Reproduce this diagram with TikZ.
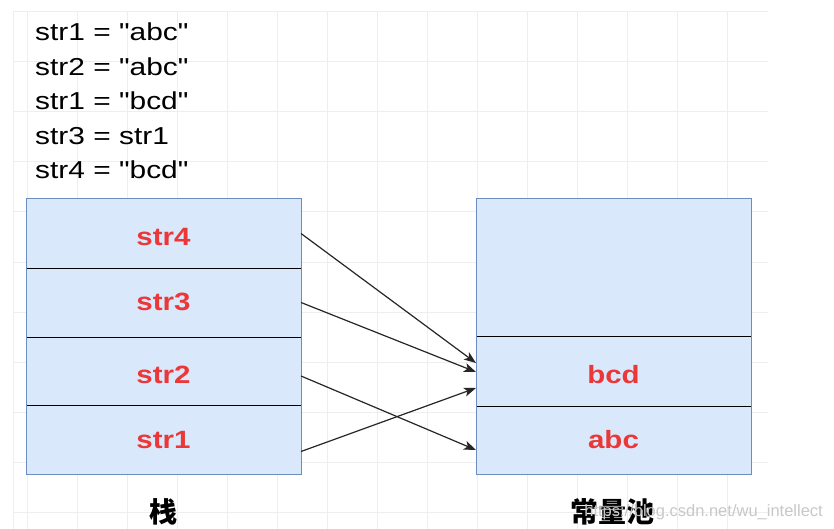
\documentclass[tikz,border=0pt]{standalone}
\usepackage{fontspec}
\setmainfont{Liberation Sans}
\newfontfamily\codefont{Liberation Sans}[FakeStretch=1.22]
\newfontfamily\labfont{Liberation Sans}[FakeStretch=1.18]
\newfontfamily\cjk{Noto Sans CJK SC}
\usetikzlibrary{arrows.meta}
\definecolor{gridc}{RGB}{238,238,238}
\definecolor{boxfill}{RGB}{218,232,252}
\definecolor{boxline}{RGB}{108,142,191}
\definecolor{labred}{RGB}{235,55,55}
\definecolor{wm}{RGB}{200,200,200}
\tikzset{
  cell/.style={fill=boxfill, draw=none, minimum width=275pt, inner sep=0pt, outer sep=0pt},
  lab/.style={text=labred, font=\fontsize{25}{25}\selectfont\labfont\bfseries},
  code/.style={anchor=base west, inner sep=0pt, font=\fontsize{24.5}{24.5}\selectfont\codefont},
  ptr/.style={-{Stealth[length=12pt,width=9pt,inset=3pt]}, line width=1.2pt, black!85},
  outer/.style={draw=boxline, line width=1pt},
  divider/.style={draw=black, line width=1pt},
  title/.style={font=\fontsize{28}{28}\selectfont\cjk\bfseries}
}
\begin{document}
\begin{tikzpicture}[x=1pt,y=-1pt]
\useasboundingbox (0,0) rectangle (834,529);
\fill[white] (0,0) rectangle (834,529);
% grid
\begin{scope}
\clip (13,12) rectangle (768,529);
\foreach \gx in {13,27,77,...,727} \draw[gridc, line width=1pt] (\gx,12) -- (\gx,529);
\foreach \gy in {12,62,...,512} \draw[gridc, line width=1pt] (13,\gy) -- (768,\gy);
\end{scope}
% code lines
\node[code] (l1) at (35,40.7) {str1 = "abc"};
\node[code] (l2) at (35,75.2) {str2 = "abc"};
\node[code] (l3) at (35,109.7) {str1 = "bcd"};
\node[code] (l4) at (35,144.2) {str3 = str1};
\node[code] (l5) at (35,178.7) {str4 = "bcd"};
% stack
\node[cell, minimum height=69pt] (s4) at (163.5,233.5) {};
\node[cell, minimum height=69pt] (s3) at (163.5,302.5) {};
\node[cell, minimum height=68pt] (s2) at (163.5,371) {};
\node[cell, minimum height=69pt] (s1) at (163.5,439.5) {};
\node[lab] (t4) at (163.5,237) {str4};
\node[lab] (t3) at (163.5,302) {str3};
\node[lab] (t2) at (163.5,375) {str2};
\node[lab] (t1) at (163.5,440) {str1};
\draw[divider] (s3.north west) -- (s3.north east);
\draw[divider] (s2.north west) -- (s2.north east);
\draw[divider] (s1.north west) -- (s1.north east);
\draw[outer] (s4.north west) rectangle (s1.south east);
% pool
\node[cell, minimum height=137pt] (p0) at (613.5,267.5) {};
\node[cell, minimum height=70pt] (pb) at (613.5,371) {};
\node[cell, minimum height=68pt] (pa) at (613.5,440) {};
\node[lab] (tb) at (613.5,375) {bcd};
\node[lab] (ta) at (613.5,440) {abc};
\draw[divider] (pb.north west) -- (pb.north east);
\draw[divider] (pa.north west) -- (pa.north east);
\draw[outer] (p0.north west) rectangle (pa.south east);
% pointers
\draw[ptr] (s4.east) -- ([yshift=8pt]pb.west);
\draw[ptr] (s3.east) -- ([yshift=-1pt]pb.west);
\draw[ptr] ([yshift=-5pt]s2.east) -- ([yshift=-10pt]pa.west);
\draw[ptr] ([yshift=-12pt]s1.east) -- ([yshift=-17pt]pb.west);
% titles
\node[title] (ts) at (163.5,512) {栈};
\node[title] (tp) at (612,512) {常量池};
\node[text=wm, font=\fontsize{16.5}{16.5}\selectfont, anchor=east, inner sep=0pt] (wmk) at (823,512) {https://blog.csdn.net/wu\_intellect};
\end{tikzpicture}
\end{document}
